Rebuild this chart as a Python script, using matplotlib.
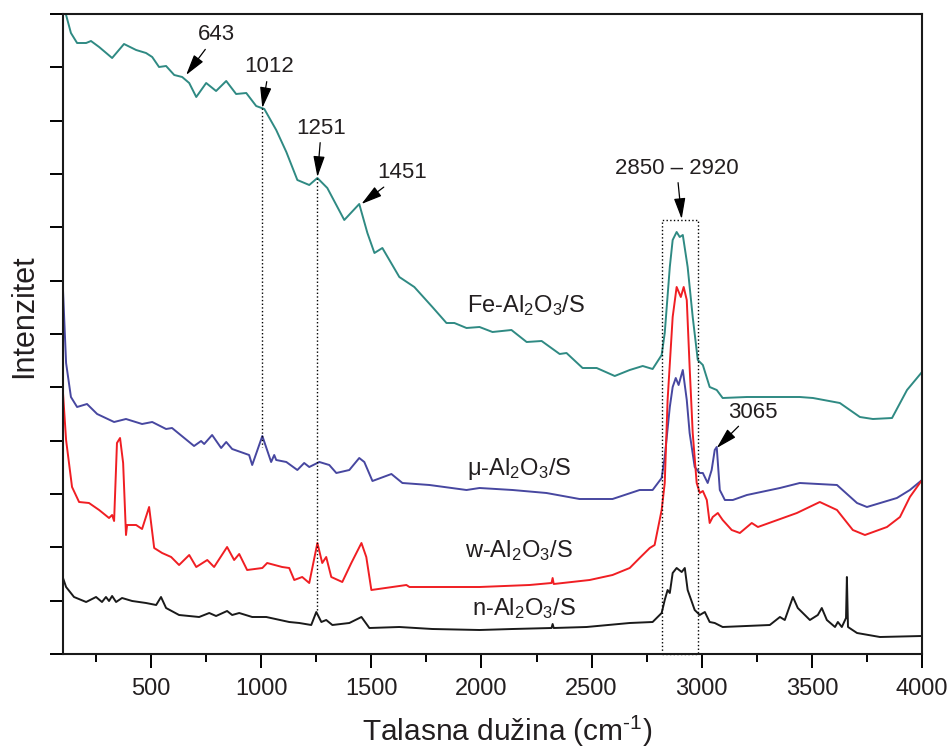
import matplotlib
matplotlib.use("Agg")
import matplotlib.pyplot as plt
import numpy as np

plt.rcParams['font.family'] = ['Liberation Sans', 'DejaVu Sans']
plt.rcParams['mathtext.fontset'] = 'custom'
plt.rcParams['mathtext.rm'] = 'Liberation Sans'
plt.rcParams['mathtext.it'] = 'Liberation Sans:italic'
plt.rcParams['mathtext.bf'] = 'Liberation Sans:bold'

# spectra: wavenumber (cm-1) and intensity (arb. units)
fe_x = [100, 114, 136, 164, 205, 227, 264, 323, 377, 432, 477, 505, 536, 568, 605, 641, 673, 705,
        750, 795, 841, 886, 932, 977, 1014, 1068, 1114, 1164, 1218, 1255, 1300, 1377, 1445, 1482,
        1514, 1550, 1627, 1695, 1777, 1841, 1877, 1932, 1991, 2050, 2136, 2205, 2273, 2355, 2386,
        2459, 2523, 2605, 2673, 2732, 2777, 2818, 2832, 2855, 2868, 2886, 2900, 2914, 2936, 2959,
        2982, 3005, 3036, 3068, 3095, 3205, 3355, 3445, 3505, 3627, 3718, 3777, 3864, 3932, 4000]
fe_y = [700, 639, 621, 611, 611, 613, 607, 596, 610, 604, 601, 597, 587, 588, 579, 577, 571, 557,
        571, 563, 573, 560, 561, 548, 545, 524, 502, 474, 469, 476, 466, 434, 450, 421,
        401, 406, 377, 367, 347, 331, 331, 326, 327, 322, 324, 312, 313, 300, 301,
        286, 286, 278, 284, 288, 285, 299, 321, 387, 414, 422, 417, 419, 387, 337,
        294, 289, 267, 264, 256, 257, 257, 257, 256, 251, 237, 235, 236, 264, 282]

mu_x = [100, 114, 136, 164, 209, 255, 332, 386, 459, 505, 568, 595, 695, 727, 741, 777, 818, 841,
        868, 945, 959, 1005, 1045, 1059, 1068, 1114, 1164, 1195, 1218, 1264, 1309, 1341, 1400,
        1445, 1468, 1505, 1591, 1641, 1764, 1932, 1991, 2141, 2295, 2445, 2595, 2718, 2777,
        2818, 2832, 2855, 2868, 2882, 2895, 2914, 2932, 2945, 2968, 2991, 3005, 3027, 3045,
        3059, 3068, 3082, 3105, 3141, 3205, 3355, 3445, 3614, 3705, 3750, 3886, 3945, 4000]
mu_y = [364, 291, 257, 247, 250, 240, 232, 235, 230, 232, 225, 226, 208, 213, 210, 219, 206, 212,
        205, 199, 189, 218, 192, 199, 194, 192, 184, 191, 187, 192, 189, 181, 184,
        196, 192, 173, 180, 171, 169, 164, 166, 164, 161, 155, 155, 164, 164,
        176, 197, 247, 267, 276, 269, 284, 254, 221, 187, 181, 181, 171, 184,
        204, 207, 164, 154, 154, 159, 166, 171, 169, 151, 147, 156, 164, 174]

w_x = [100, 114, 141, 173, 218, 264, 309, 323, 332, 345, 359, 373, 386, 391, 432, 459, 491, 514,
       550, 591, 627, 673, 705, 755, 786, 845, 877, 900, 936, 1005, 1027, 1095, 1127, 1150, 1186,
       1218, 1255, 1277, 1295, 1318, 1368, 1409, 1455, 1477, 1500, 1659, 1673, 1991, 2218, 2318,
       2323, 2328, 2491, 2595, 2673, 2718, 2764, 2786, 2818, 2832, 2845, 2868, 2886, 2905, 2918,
       2932, 2945, 2959, 2977, 2991, 3005, 3023, 3036, 3050, 3073, 3095, 3136, 3173, 3227, 3255,
       3432, 3536, 3614, 3686, 3741, 3841, 3900, 3945, 4000]
w_y = [261, 214, 167, 152, 151, 144, 136, 139, 133, 211, 216, 191, 119, 129, 129, 125, 147, 106,
       101, 97, 89, 99, 87, 94, 87, 107, 94, 100, 84, 86, 91, 87, 86, 74, 77,
       71, 111, 91, 97, 77, 72, 91, 111, 97, 64, 69, 67, 67, 69, 71,
       76, 70, 74, 79, 86, 96, 106, 109, 144, 171, 254, 337, 367, 357, 367,
       354, 287, 221, 171, 161, 163, 154, 131, 137, 141, 134, 124, 121, 131, 127,
       141, 152, 144, 124, 119, 127, 137, 157, 174]

n_x = [100, 114, 150, 205, 250, 277, 295, 309, 323, 341, 368, 414, 477, 523, 545, 568, 627, 718,
       764, 795, 845, 868, 900, 959, 1023, 1127, 1173, 1227, 1250, 1273, 1295, 1323, 1400, 1455,
       1491, 1627, 1777, 1991, 2141, 2318, 2323, 2328, 2477, 2673, 2777, 2818, 2832, 2845, 2855,
       2868, 2886, 2909, 2923, 2936, 2968, 2991, 3014, 3036, 3059, 3095, 3309, 3355, 3377, 3414,
       3436, 3491, 3527, 3545, 3568, 3605, 3618, 3636, 3655, 3659, 3664, 3705, 3809, 4000]
n_y = [76, 67, 57, 52, 57, 52, 57, 53, 58, 52, 56, 53, 51, 49, 57, 46, 39, 37,
       41, 38, 43, 39, 41, 37, 37, 32, 31, 29, 42, 32, 34, 29, 31, 37,
       26, 27, 25, 24, 25, 26, 30, 26, 27, 31, 32, 41, 54, 64, 61,
       81, 86, 82, 86, 64, 44, 39, 42, 32, 31, 27, 29, 37, 34, 57,
       46, 34, 39, 46, 34, 27, 32, 27, 36, 77, 27, 21, 17, 18]

series_labels = ['Fe-Al$_2$O$_3$/S', 'μ-Al$_2$O$_3$/S', 'w-Al$_2$O$_3$/S', 'n-Al$_2$O$_3$/S']
label_pos = [(1932, 342), (1932, 179), (1927, 97), (1955, 39)]
colors = ['#2f8a83', '#4747a0', '#f01e23', '#1a1a1a']

# peak annotations: text, text position, arrow tip
peak_texts = ['643', '1012', '1251', '1451', '2850 – 2920', '3065']
peak_text_xy = [(795, 619), (1036, 587), (1273, 526), (1641, 481), (2886, 486), (3232, 242)]
peak_tip_xy = [(659, 579), (1005, 546), (1255, 477), (1455, 450), (2909, 435), (3068, 206)]

text_col = '#231f20'

fig = plt.figure(figsize=(9.52, 7.53), dpi=100)
ax = fig.add_axes([63 / 952, 99 / 753, 859 / 952, 640 / 753])

for xs, ys, c in zip([fe_x, mu_x, w_x, n_x], [fe_y, mu_y, w_y, n_y], colors):
    ax.plot(xs, ys, color=c, lw=1.4, solid_joinstyle='round')

for lab, (lx, ly) in zip(series_labels, label_pos):
    ax.text(lx, ly, lab, fontsize=17, ha='left', va='baseline', color=text_col)

for t, txy, tip in zip(peak_texts, peak_text_xy, peak_tip_xy):
    ax.annotate(t, xy=tip, xytext=txy, fontsize=16, ha='center', va='center', color=text_col,
                arrowprops=dict(arrowstyle='-|>,head_length=0.8,head_width=0.22', color='black',
                                lw=0.9, shrinkA=1, shrinkB=0))

# dotted guide lines and box around C-H band
ax.plot([1005, 1005], [546, 207], color='black', ls=':', lw=1)
ax.plot([1255, 1255], [476, 44], color='black', ls=':', lw=1)
box_x = [2818, 2818, 2982, 2982, 2818]
box_y = [0, 434, 434, 0, 0]
ax.plot(box_x, box_y, color='black', ls=':', lw=1, clip_on=False)

ax.set_xlim(100, 4000)
ax.set_ylim(0, 640)
ax.set_xticks(np.arange(500, 4001, 500))
ax.set_xticks(np.arange(250, 4000, 500), minor=True)
ax.set_yticks(np.linspace(0, 640, 13))
ax.set_yticklabels([])
ax.tick_params(axis='x', which='major', direction='out', length=10, width=1.4, labelsize=17,
               pad=7, labelcolor=text_col)
ax.tick_params(axis='x', which='minor', direction='out', length=6, width=1.4)
ax.tick_params(axis='y', which='major', direction='out', length=9.5, width=1.4)
for s in ax.spines.values():
    s.set_linewidth(1.5)
    s.set_color('#1a1a1a')

ax.set_xlabel(r'Talasna dužina (cm$^{\text{-}1}$)', fontsize=21.5, color=text_col)
ax.xaxis.set_label_coords(0.517, -0.093)
ax.set_ylabel('Intenzitet', fontsize=22, color=text_col)
ax.yaxis.set_label_coords(-0.028, 0.528)

fig.savefig('out.png', dpi=100)
